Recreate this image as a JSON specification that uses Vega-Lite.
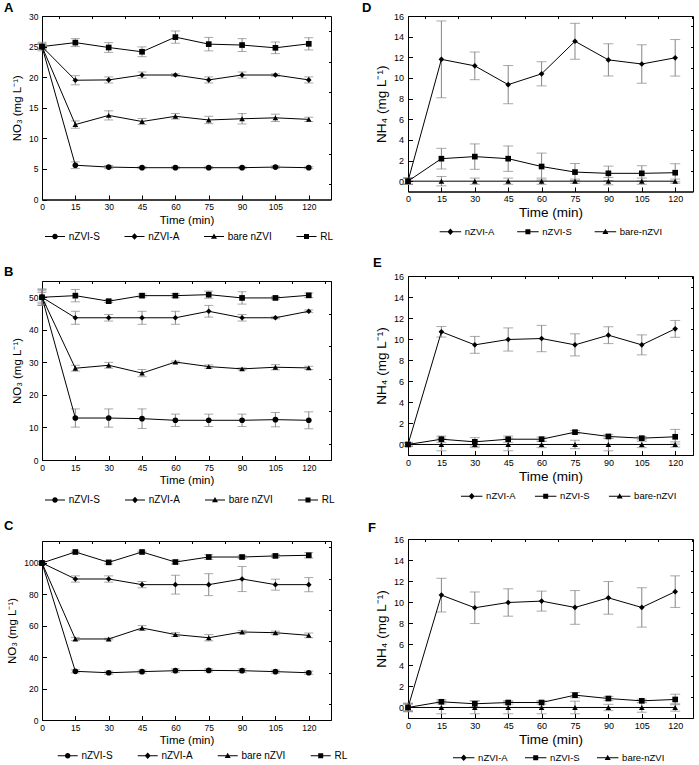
{
"$schema": "https://vega.github.io/schema/vega-lite/v6.json",
"padding": {"left": 3, "top": 1, "right": 0, "bottom": 0},
"background": "white",
"data": {"values": [
{"p":"A","s":"nZVI-S","t":0,"v":25,"e":0.4},{"p":"A","s":"nZVI-S","t":15,"v":5.6,"e":0.55},{"p":"A","s":"nZVI-S","t":30,"v":5.3,"e":0.25},{"p":"A","s":"nZVI-S","t":45,"v":5.2,"e":0.15},{"p":"A","s":"nZVI-S","t":60,"v":5.2,"e":0.15},{"p":"A","s":"nZVI-S","t":75,"v":5.2,"e":0.15},{"p":"A","s":"nZVI-S","t":90,"v":5.2,"e":0.15},{"p":"A","s":"nZVI-S","t":105,"v":5.3,"e":0.2},{"p":"A","s":"nZVI-S","t":120,"v":5.2,"e":0.15},
{"p":"A","s":"nZVI-A","t":0,"v":25,"e":0.4},{"p":"A","s":"nZVI-A","t":15,"v":19.5,"e":0.75},{"p":"A","s":"nZVI-A","t":30,"v":19.55,"e":0.5},{"p":"A","s":"nZVI-A","t":45,"v":20.35,"e":0.5},{"p":"A","s":"nZVI-A","t":60,"v":20.35,"e":0.2},{"p":"A","s":"nZVI-A","t":75,"v":19.55,"e":0.5},{"p":"A","s":"nZVI-A","t":90,"v":20.35,"e":0.5},{"p":"A","s":"nZVI-A","t":105,"v":20.35,"e":0.2},{"p":"A","s":"nZVI-A","t":120,"v":19.55,"e":0.5},
{"p":"A","s":"bare nZVI","t":0,"v":25,"e":0.4},{"p":"A","s":"bare nZVI","t":15,"v":12.25,"e":0.6},{"p":"A","s":"bare nZVI","t":30,"v":13.75,"e":0.75},{"p":"A","s":"bare nZVI","t":45,"v":12.75,"e":0.5},{"p":"A","s":"bare nZVI","t":60,"v":13.6,"e":0.45},{"p":"A","s":"bare nZVI","t":75,"v":13.0,"e":0.6},{"p":"A","s":"bare nZVI","t":90,"v":13.2,"e":0.85},{"p":"A","s":"bare nZVI","t":105,"v":13.35,"e":0.6},{"p":"A","s":"bare nZVI","t":120,"v":13.1,"e":0.35},
{"p":"A","s":"RL","t":0,"v":25,"e":0.7},{"p":"A","s":"RL","t":15,"v":25.65,"e":0.65},{"p":"A","s":"RL","t":30,"v":24.85,"e":0.8},{"p":"A","s":"RL","t":45,"v":24.15,"e":0.8},{"p":"A","s":"RL","t":60,"v":26.55,"e":1.0},{"p":"A","s":"RL","t":75,"v":25.4,"e":1.1},{"p":"A","s":"RL","t":90,"v":25.25,"e":1.05},{"p":"A","s":"RL","t":105,"v":24.8,"e":0.95},{"p":"A","s":"RL","t":120,"v":25.45,"e":1.0},
{"p":"B","s":"nZVI-S","t":0,"v":50,"e":2.5},{"p":"B","s":"nZVI-S","t":15,"v":12.9,"e":2.8},{"p":"B","s":"nZVI-S","t":30,"v":12.9,"e":2.8},{"p":"B","s":"nZVI-S","t":45,"v":12.7,"e":3.0},{"p":"B","s":"nZVI-S","t":60,"v":12.2,"e":1.9},{"p":"B","s":"nZVI-S","t":75,"v":12.2,"e":1.9},{"p":"B","s":"nZVI-S","t":90,"v":12.2,"e":1.9},{"p":"B","s":"nZVI-S","t":105,"v":12.4,"e":2.2},{"p":"B","s":"nZVI-S","t":120,"v":12.2,"e":2.6},
{"p":"B","s":"nZVI-A","t":0,"v":50,"e":2},{"p":"B","s":"nZVI-A","t":15,"v":43.7,"e":2.0},{"p":"B","s":"nZVI-A","t":30,"v":43.7,"e":1.0},{"p":"B","s":"nZVI-A","t":45,"v":43.7,"e":2.0},{"p":"B","s":"nZVI-A","t":60,"v":43.7,"e":2.0},{"p":"B","s":"nZVI-A","t":75,"v":45.7,"e":1.8},{"p":"B","s":"nZVI-A","t":90,"v":43.7,"e":1.0},{"p":"B","s":"nZVI-A","t":105,"v":43.7,"e":0.3},{"p":"B","s":"nZVI-A","t":120,"v":45.7,"e":0.4},
{"p":"B","s":"bare nZVI","t":0,"v":50,"e":1.5},{"p":"B","s":"bare nZVI","t":15,"v":28.2,"e":0.9},{"p":"B","s":"bare nZVI","t":30,"v":29.1,"e":0.9},{"p":"B","s":"bare nZVI","t":45,"v":26.7,"e":1.1},{"p":"B","s":"bare nZVI","t":60,"v":30.1,"e":0.3},{"p":"B","s":"bare nZVI","t":75,"v":28.7,"e":0.5},{"p":"B","s":"bare nZVI","t":90,"v":28.0,"e":0.3},{"p":"B","s":"bare nZVI","t":105,"v":28.5,"e":0.8},{"p":"B","s":"bare nZVI","t":120,"v":28.3,"e":0.5},
{"p":"B","s":"RL","t":0,"v":50,"e":2.5},{"p":"B","s":"RL","t":15,"v":50.5,"e":1.9},{"p":"B","s":"RL","t":30,"v":48.8,"e":0.4},{"p":"B","s":"RL","t":45,"v":50.5,"e":0.5},{"p":"B","s":"RL","t":60,"v":50.5,"e":0.6},{"p":"B","s":"RL","t":75,"v":50.8,"e":1.1},{"p":"B","s":"RL","t":90,"v":49.8,"e":1.9},{"p":"B","s":"RL","t":105,"v":49.8,"e":0.4},{"p":"B","s":"RL","t":120,"v":50.6,"e":0.7},
{"p":"C","s":"nZVI-S","t":0,"v":100,"e":1},{"p":"C","s":"nZVI-S","t":15,"v":31.0,"e":1},{"p":"C","s":"nZVI-S","t":30,"v":30.1,"e":1},{"p":"C","s":"nZVI-S","t":45,"v":30.8,"e":1},{"p":"C","s":"nZVI-S","t":60,"v":31.4,"e":1.2},{"p":"C","s":"nZVI-S","t":75,"v":31.6,"e":1},{"p":"C","s":"nZVI-S","t":90,"v":31.4,"e":1.2},{"p":"C","s":"nZVI-S","t":105,"v":30.8,"e":1},{"p":"C","s":"nZVI-S","t":120,"v":30.1,"e":1},
{"p":"C","s":"nZVI-A","t":0,"v":100,"e":1},{"p":"C","s":"nZVI-A","t":15,"v":89.8,"e":2},{"p":"C","s":"nZVI-A","t":30,"v":89.8,"e":2},{"p":"C","s":"nZVI-A","t":45,"v":86.2,"e":2},{"p":"C","s":"nZVI-A","t":60,"v":86.2,"e":6},{"p":"C","s":"nZVI-A","t":75,"v":86.2,"e":7},{"p":"C","s":"nZVI-A","t":90,"v":89.8,"e":8},{"p":"C","s":"nZVI-A","t":105,"v":86.2,"e":3.5},{"p":"C","s":"nZVI-A","t":120,"v":86.2,"e":4.5},
{"p":"C","s":"bare nZVI","t":0,"v":100,"e":1},{"p":"C","s":"bare nZVI","t":15,"v":51.6,"e":1},{"p":"C","s":"bare nZVI","t":30,"v":51.6,"e":0.5},{"p":"C","s":"bare nZVI","t":45,"v":58.6,"e":1.5},{"p":"C","s":"bare nZVI","t":60,"v":54.4,"e":1.2},{"p":"C","s":"bare nZVI","t":75,"v":52.4,"e":2},{"p":"C","s":"bare nZVI","t":90,"v":56.05,"e":1},{"p":"C","s":"bare nZVI","t":105,"v":55.6,"e":1},{"p":"C","s":"bare nZVI","t":120,"v":53.9,"e":1.5},
{"p":"C","s":"RL","t":0,"v":100,"e":1},{"p":"C","s":"RL","t":15,"v":107,"e":0.5},{"p":"C","s":"RL","t":30,"v":100.4,"e":1},{"p":"C","s":"RL","t":45,"v":107,"e":0.5},{"p":"C","s":"RL","t":60,"v":100.6,"e":1.2},{"p":"C","s":"RL","t":75,"v":103.8,"e":1.5},{"p":"C","s":"RL","t":90,"v":103.8,"e":1},{"p":"C","s":"RL","t":105,"v":104.5,"e":1},{"p":"C","s":"RL","t":120,"v":104.9,"e":1.7},
{"p":"D","s":"nZVI-A","t":0,"v":0,"e":0.3},{"p":"D","s":"nZVI-A","t":15,"v":11.8,"e":3.72},{"p":"D","s":"nZVI-A","t":30,"v":11.17,"e":1.34},{"p":"D","s":"nZVI-A","t":45,"v":9.35,"e":1.85},{"p":"D","s":"nZVI-A","t":60,"v":10.4,"e":1.17},{"p":"D","s":"nZVI-A","t":75,"v":13.55,"e":1.74},{"p":"D","s":"nZVI-A","t":90,"v":11.75,"e":1.56},{"p":"D","s":"nZVI-A","t":105,"v":11.35,"e":1.86},{"p":"D","s":"nZVI-A","t":120,"v":11.95,"e":1.77},
{"p":"D","s":"nZVI-S","t":0,"v":0,"e":0.3},{"p":"D","s":"nZVI-S","t":15,"v":2.18,"e":1.0},{"p":"D","s":"nZVI-S","t":30,"v":2.38,"e":1.23},{"p":"D","s":"nZVI-S","t":45,"v":2.18,"e":1.23},{"p":"D","s":"nZVI-S","t":60,"v":1.42,"e":1.3},{"p":"D","s":"nZVI-S","t":75,"v":0.88,"e":0.83},{"p":"D","s":"nZVI-S","t":90,"v":0.76,"e":0.7},{"p":"D","s":"nZVI-S","t":105,"v":0.76,"e":0.74},{"p":"D","s":"nZVI-S","t":120,"v":0.82,"e":0.87},
{"p":"D","s":"bare-nZVI","t":0,"v":0,"e":0.3},{"p":"D","s":"bare-nZVI","t":15,"v":0,"e":0.45},{"p":"D","s":"bare-nZVI","t":30,"v":0,"e":0.3},{"p":"D","s":"bare-nZVI","t":45,"v":0,"e":0.3},{"p":"D","s":"bare-nZVI","t":60,"v":0,"e":0.3},{"p":"D","s":"bare-nZVI","t":75,"v":0,"e":0.2},{"p":"D","s":"bare-nZVI","t":90,"v":0,"e":0.35},{"p":"D","s":"bare-nZVI","t":105,"v":0,"e":0.3},{"p":"D","s":"bare-nZVI","t":120,"v":0,"e":0.2},
{"p":"E","s":"nZVI-A","t":0,"v":0,"e":0.2},{"p":"E","s":"nZVI-A","t":15,"v":10.7,"e":0.5},{"p":"E","s":"nZVI-A","t":30,"v":9.46,"e":0.8},{"p":"E","s":"nZVI-A","t":45,"v":9.97,"e":1.1},{"p":"E","s":"nZVI-A","t":60,"v":10.06,"e":1.25},{"p":"E","s":"nZVI-A","t":75,"v":9.46,"e":1.05},{"p":"E","s":"nZVI-A","t":90,"v":10.38,"e":0.8},{"p":"E","s":"nZVI-A","t":105,"v":9.46,"e":0.95},{"p":"E","s":"nZVI-A","t":120,"v":10.98,"e":0.8},
{"p":"E","s":"nZVI-S","t":0,"v":0,"e":0.15},{"p":"E","s":"nZVI-S","t":15,"v":0.5,"e":0.3},{"p":"E","s":"nZVI-S","t":30,"v":0.25,"e":0.4},{"p":"E","s":"nZVI-S","t":45,"v":0.5,"e":0.3},{"p":"E","s":"nZVI-S","t":60,"v":0.5,"e":0.2},{"p":"E","s":"nZVI-S","t":75,"v":1.17,"e":0.15},{"p":"E","s":"nZVI-S","t":90,"v":0.76,"e":0.2},{"p":"E","s":"nZVI-S","t":105,"v":0.6,"e":0.15},{"p":"E","s":"nZVI-S","t":120,"v":0.73,"e":0.7},
{"p":"E","s":"bare-nZVI","t":0,"v":0,"e":0.15},{"p":"E","s":"bare-nZVI","t":15,"v":0,"e":0.6},{"p":"E","s":"bare-nZVI","t":30,"v":0,"e":0.3},{"p":"E","s":"bare-nZVI","t":45,"v":0,"e":0.6},{"p":"E","s":"bare-nZVI","t":60,"v":0,"e":0.3},{"p":"E","s":"bare-nZVI","t":75,"v":0,"e":0.4},{"p":"E","s":"bare-nZVI","t":90,"v":0,"e":0.6},{"p":"E","s":"bare-nZVI","t":105,"v":0,"e":0.3},{"p":"E","s":"bare-nZVI","t":120,"v":0,"e":0.25},
{"p":"F","s":"nZVI-A","t":0,"v":0,"e":0.3},{"p":"F","s":"nZVI-A","t":15,"v":10.67,"e":1.6},{"p":"F","s":"nZVI-A","t":30,"v":9.47,"e":1.5},{"p":"F","s":"nZVI-A","t":45,"v":9.97,"e":1.3},{"p":"F","s":"nZVI-A","t":60,"v":10.1,"e":0.95},{"p":"F","s":"nZVI-A","t":75,"v":9.5,"e":1.6},{"p":"F","s":"nZVI-A","t":90,"v":10.41,"e":1.55},{"p":"F","s":"nZVI-A","t":105,"v":9.5,"e":1.87},{"p":"F","s":"nZVI-A","t":120,"v":11.0,"e":1.5},
{"p":"F","s":"nZVI-S","t":0,"v":0,"e":0.4},{"p":"F","s":"nZVI-S","t":15,"v":0.54,"e":0.2},{"p":"F","s":"nZVI-S","t":30,"v":0.35,"e":0.3},{"p":"F","s":"nZVI-S","t":45,"v":0.47,"e":0.15},{"p":"F","s":"nZVI-S","t":60,"v":0.47,"e":0.15},{"p":"F","s":"nZVI-S","t":75,"v":1.17,"e":0.25},{"p":"F","s":"nZVI-S","t":90,"v":0.85,"e":0.2},{"p":"F","s":"nZVI-S","t":105,"v":0.63,"e":0.15},{"p":"F","s":"nZVI-S","t":120,"v":0.76,"e":0.5},
{"p":"F","s":"bare-nZVI","t":0,"v":0,"e":0.4},{"p":"F","s":"bare-nZVI","t":15,"v":0,"e":0.6},{"p":"F","s":"bare-nZVI","t":30,"v":0,"e":0.6},{"p":"F","s":"bare-nZVI","t":45,"v":0,"e":0.6},{"p":"F","s":"bare-nZVI","t":60,"v":0,"e":0.6},{"p":"F","s":"bare-nZVI","t":75,"v":0,"e":0.6},{"p":"F","s":"bare-nZVI","t":90,"v":0,"e":0.3},{"p":"F","s":"bare-nZVI","t":105,"v":0,"e":0.45},{"p":"F","s":"bare-nZVI","t":120,"v":0,"e":0.35}
]},
"spacing": 12,
"resolve": {"scale": {"shape": "independent", "x": "independent", "y": "independent"}, "legend": {"shape": "independent"}, "axis": {"x": "independent", "y": "independent"}},
"hconcat": [
{"spacing": 81, "bounds": "flush",
 "resolve": {"scale": {"shape": "independent", "x": "independent", "y": "independent"}, "legend": {"shape": "independent"}, "axis": {"x": "independent", "y": "independent"}},
 "vconcat": [
  {"width": 289, "height": 183.5,
   "title": {"text": "A", "anchor": "start", "frame": "group", "dx": -38, "offset": -2.75, "fontSize": 13, "fontWeight": "bold", "font": "Liberation Sans", "color": "black"},
   "transform": [{"filter": "datum.p==='A'"}],
   "resolve": {"scale": {"shape": "independent"}, "axis": {"x": "independent", "y": "independent"}},
   "layer": [
    {"mark": {"type": "errorbar", "ticks": {"size": 9}, "color": "#858585", "thickness": 1},
     "encoding": {"x": {"field": "t", "type": "quantitative", "scale": {"domain": [0, 130], "nice": false}, "axis": null},
      "y": {"field": "v", "type": "quantitative", "scale": {"domain": [0, 30], "nice": false}, "axis": null},
      "yError": {"field": "e"}}},
    {"mark": {"type": "line", "color": "black", "strokeWidth": 1},
     "encoding": {"x": {"field": "t", "type": "quantitative", "axis": {"values": [0,15,30,45,60,75,90,105,120], "tickSize": -4.5, "labelPadding": 7.5, "title": "Time (min)", "titlePadding": 3, "labelFontSize": 8.5, "titleFontSize": 11.5}},
      "y": {"field": "v", "type": "quantitative", "axis": {"values": [0,5,10,15,20,25,30], "tickSize": -4.5, "labelPadding": 8.5, "title": "NO₃ (mg L⁻¹)", "titlePadding": 6, "labelFontSize": 8.5, "titleFontSize": 11.5}},
      "detail": {"field": "s"}}},
    {"mark": {"type": "point", "filled": true, "color": "black", "size": 32, "opacity": 1},
     "encoding": {"x": {"field": "t", "type": "quantitative", "axis": {"values": [7.5,22.5,37.5,52.5,67.5,82.5,97.5,112.5,127.5], "tickSize": -2.5, "labels": false, "domain": false, "title": null}},
      "y": {"field": "v", "type": "quantitative", "axis": {"values": [2.5,7.5,12.5,17.5,22.5,27.5], "tickSize": -2.5, "labels": false, "domain": false, "title": null}},
      "shape": {"field": "s", "type": "nominal", "scale": {"domain": ["nZVI-S","nZVI-A","bare nZVI","RL"], "range": ["circle","diamond","triangle-up","square"]}, "legend": null}}},
    {"transform": [{"filter": "datum.t < 0"}],
     "mark": {"type": "point", "filled": true, "color": "black", "opacity": 1},
     "encoding": {"x": {"field": "t", "type": "quantitative", "axis": null}, "y": {"field": "v", "type": "quantitative", "axis": null},
      "shape": {"field": "s", "type": "nominal", "scale": {"domain": ["nZVI-S","nZVI-A","bare nZVI","RL"], "range": ["M-2,-0.1H2V0.1H-2ZM0.55,0A0.55,0.55,0,1,1,-0.55,0A0.55,0.55,0,1,1,0.55,0Z","M-2,-0.1H2V0.1H-2ZM0,-0.65L0.6,0L0,0.65L-0.6,0Z","M-2,-0.1H2V0.1H-2ZM0,-0.6L0.6,0.45L-0.6,0.45Z","M-2,-0.1H2V0.1H-2ZM-0.5,-0.5H0.5V0.5H-0.5Z"]},
       "legend": {"title": null, "orient": "none", "legendX": 8, "legendY": 215.5, "columnPadding": 24.5, "labelOffset": 8.75, "labelFontSize": 10}}}}
   ]},
  {"width": 289, "height": 179,
   "title": {"text": "B", "anchor": "start", "frame": "group", "dx": -38, "offset": 2, "fontSize": 13, "fontWeight": "bold", "font": "Liberation Sans", "color": "black"},
   "transform": [{"filter": "datum.p==='B'"}],
   "resolve": {"scale": {"shape": "independent"}, "axis": {"x": "independent", "y": "independent"}},
   "layer": [
    {"mark": {"type": "errorbar", "ticks": {"size": 9}, "color": "#858585", "thickness": 1},
     "encoding": {"x": {"field": "t", "type": "quantitative", "scale": {"domain": [0, 130], "nice": false}, "axis": null},
      "y": {"field": "v", "type": "quantitative", "scale": {"domain": [0, 55], "nice": false}, "axis": null},
      "yError": {"field": "e"}}},
    {"mark": {"type": "line", "color": "black", "strokeWidth": 1},
     "encoding": {"x": {"field": "t", "type": "quantitative", "axis": {"values": [0,15,30,45,60,75,90,105,120], "tickSize": -4.5, "labelPadding": 7.5, "title": "Time (min)", "titlePadding": 3, "labelFontSize": 8.5, "titleFontSize": 11.5}},
      "y": {"field": "v", "type": "quantitative", "axis": {"values": [0,10,20,30,40,50], "tickSize": -4.5, "labelPadding": 8.5, "title": "NO₃ (mg L⁻¹)", "titlePadding": 6, "labelFontSize": 8.5, "titleFontSize": 11.5}},
      "detail": {"field": "s"}}},
    {"mark": {"type": "point", "filled": true, "color": "black", "size": 32, "opacity": 1},
     "encoding": {"x": {"field": "t", "type": "quantitative", "axis": {"values": [7.5,22.5,37.5,52.5,67.5,82.5,97.5,112.5,127.5], "tickSize": -2.5, "labels": false, "domain": false, "title": null}},
      "y": {"field": "v", "type": "quantitative", "axis": {"values": [5,15,25,35,45,55], "tickSize": -2.5, "labels": false, "domain": false, "title": null}},
      "shape": {"field": "s", "type": "nominal", "scale": {"domain": ["nZVI-S","nZVI-A","bare nZVI","RL"], "range": ["circle","diamond","triangle-up","square"]}, "legend": null}}},
    {"transform": [{"filter": "datum.t < 0"}],
     "mark": {"type": "point", "filled": true, "color": "black", "opacity": 1},
     "encoding": {"x": {"field": "t", "type": "quantitative", "axis": null}, "y": {"field": "v", "type": "quantitative", "axis": null},
      "shape": {"field": "s", "type": "nominal", "scale": {"domain": ["nZVI-S","nZVI-A","bare nZVI","RL"], "range": ["M-2,-0.1H2V0.1H-2ZM0.55,0A0.55,0.55,0,1,1,-0.55,0A0.55,0.55,0,1,1,0.55,0Z","M-2,-0.1H2V0.1H-2ZM0,-0.65L0.6,0L0,0.65L-0.6,0Z","M-2,-0.1H2V0.1H-2ZM0,-0.6L0.6,0.45L-0.6,0.45Z","M-2,-0.1H2V0.1H-2ZM-0.5,-0.5H0.5V0.5H-0.5Z"]},
       "legend": {"title": null, "orient": "none", "legendX": 8, "legendY": 214, "columnPadding": 25, "labelOffset": 8.75, "labelFontSize": 10}}}}
   ]},
  {"width": 289, "height": 179,
   "title": {"text": "C", "anchor": "start", "frame": "group", "dx": -38, "offset": 7.5, "fontSize": 13, "fontWeight": "bold", "font": "Liberation Sans", "color": "black"},
   "transform": [{"filter": "datum.p==='C'"}],
   "resolve": {"scale": {"shape": "independent"}, "axis": {"x": "independent", "y": "independent"}},
   "layer": [
    {"mark": {"type": "errorbar", "ticks": {"size": 9}, "color": "#858585", "thickness": 1},
     "encoding": {"x": {"field": "t", "type": "quantitative", "scale": {"domain": [0, 130], "nice": false}, "axis": null},
      "y": {"field": "v", "type": "quantitative", "scale": {"domain": [0, 114], "nice": false}, "axis": null},
      "yError": {"field": "e"}}},
    {"mark": {"type": "line", "color": "black", "strokeWidth": 1},
     "encoding": {"x": {"field": "t", "type": "quantitative", "axis": {"values": [0,15,30,45,60,75,90,105,120], "tickSize": -4.5, "labelPadding": 7.5, "title": "Time (min)", "titlePadding": 3, "labelFontSize": 8.5, "titleFontSize": 11.5}},
      "y": {"field": "v", "type": "quantitative", "axis": {"values": [0,20,40,60,80,100], "tickSize": -4.5, "labelPadding": 8.5, "title": "NO₃ (mg L⁻¹)", "titlePadding": 6, "labelFontSize": 8.5, "titleFontSize": 11.5}},
      "detail": {"field": "s"}}},
    {"mark": {"type": "point", "filled": true, "color": "black", "size": 32, "opacity": 1},
     "encoding": {"x": {"field": "t", "type": "quantitative", "axis": {"values": [7.5,22.5,37.5,52.5,67.5,82.5,97.5,112.5,127.5], "tickSize": -2.5, "labels": false, "domain": false, "title": null}},
      "y": {"field": "v", "type": "quantitative", "axis": {"values": [10,30,50,70,90,110], "tickSize": -2.5, "labels": false, "domain": false, "title": null}},
      "shape": {"field": "s", "type": "nominal", "scale": {"domain": ["nZVI-S","nZVI-A","bare nZVI","RL"], "range": ["circle","diamond","triangle-up","square"]}, "legend": null}}},
    {"transform": [{"filter": "datum.t < 0"}],
     "mark": {"type": "point", "filled": true, "color": "black", "opacity": 1},
     "encoding": {"x": {"field": "t", "type": "quantitative", "axis": null}, "y": {"field": "v", "type": "quantitative", "axis": null},
      "shape": {"field": "s", "type": "nominal", "scale": {"domain": ["nZVI-S","nZVI-A","bare nZVI","RL"], "range": ["M-2,-0.1H2V0.1H-2ZM0.55,0A0.55,0.55,0,1,1,-0.55,0A0.55,0.55,0,1,1,0.55,0Z","M-2,-0.1H2V0.1H-2ZM0,-0.65L0.6,0L0,0.65L-0.6,0Z","M-2,-0.1H2V0.1H-2ZM0,-0.6L0.6,0.45L-0.6,0.45Z","M-2,-0.1H2V0.1H-2ZM-0.5,-0.5H0.5V0.5H-0.5Z"]},
       "legend": {"title": null, "orient": "none", "legendX": 20.7, "legendY": 209.7, "columnPadding": 25, "labelOffset": 8.75, "labelFontSize": 10}}}}
   ]}
 ]},
{"spacing": 84, "bounds": "flush",
 "resolve": {"scale": {"shape": "independent", "x": "independent", "y": "independent"}, "legend": {"shape": "independent"}, "axis": {"x": "independent", "y": "independent"}},
 "vconcat": [
  {"width": 285, "height": 175.5,
   "title": {"text": "D", "anchor": "start", "frame": "group", "dx": -46, "offset": -3, "fontSize": 13, "fontWeight": "bold", "font": "Liberation Sans", "color": "black"},
   "transform": [{"filter": "datum.p==='D'"}],
   "resolve": {"scale": {"shape": "independent"}, "axis": {"x": "independent", "y": "independent"}},
   "layer": [
    {"mark": {"type": "errorbar", "ticks": {"size": 10}, "color": "#858585", "thickness": 1},
     "encoding": {"x": {"field": "t", "type": "quantitative", "scale": {"domain": [0, 128], "nice": false}, "axis": null},
      "y": {"field": "v", "type": "quantitative", "scale": {"domain": [-1, 16], "nice": false}, "axis": null},
      "yError": {"field": "e"}}},
    {"mark": {"type": "line", "color": "black", "strokeWidth": 1},
     "encoding": {"x": {"field": "t", "type": "quantitative", "axis": {"values": [0,15,30,45,60,75,90,105,120], "tickSize": -4.5, "labelPadding": 7.5, "title": "Time (min)", "titlePadding": 2, "labelFontSize": 9, "titleFontSize": 13.5}},
      "y": {"field": "v", "type": "quantitative", "axis": {"values": [0,2,4,6,8,10,12,14,16], "tickSize": -4.5, "labelPadding": 9, "title": "NH₄ (mg L⁻¹)", "titlePadding": 5, "labelFontSize": 9, "titleFontSize": 13.5}},
      "detail": {"field": "s"}}},
    {"mark": {"type": "point", "filled": true, "color": "black", "size": 32, "opacity": 1},
     "encoding": {"x": {"field": "t", "type": "quantitative", "axis": {"values": [7.5,22.5,37.5,52.5,67.5,82.5,97.5,112.5,127.5], "tickSize": -2.5, "labels": false, "domain": false, "title": null}},
      "y": {"field": "v", "type": "quantitative", "axis": {"values": [1,3,5,7,9,11,13,15], "tickSize": -2.5, "labels": false, "domain": false, "title": null}},
      "shape": {"field": "s", "type": "nominal", "scale": {"domain": ["nZVI-A","nZVI-S","bare-nZVI"], "range": ["diamond","square","triangle-up"]}, "legend": null}}},
    {"transform": [{"filter": "datum.t < 0"}],
     "mark": {"type": "point", "filled": true, "color": "black", "opacity": 1},
     "encoding": {"x": {"field": "t", "type": "quantitative", "axis": null}, "y": {"field": "v", "type": "quantitative", "axis": null},
      "shape": {"field": "s", "type": "nominal", "scale": {"domain": ["nZVI-A","nZVI-S","bare-nZVI"], "range": ["M-2.15,-0.1H2.15V0.1H-2.15ZM0,-0.65L0.6,0L0,0.65L-0.6,0Z","M-2.15,-0.1H2.15V0.1H-2.15ZM-0.5,-0.5H0.5V0.5H-0.5Z","M-2.15,-0.1H2.15V0.1H-2.15ZM0,-0.6L0.6,0.45L-0.6,0.45Z"]},
       "legend": {"title": null, "orient": "none", "legendX": 37.4, "legendY": 210.5, "columnPadding": 22.5, "labelOffset": 9.4, "labelFontSize": 9.5}}}}
   ]},
  {"width": 285, "height": 179,
   "title": {"text": "E", "anchor": "start", "frame": "group", "dx": -35, "offset": 2.5, "fontSize": 13, "fontWeight": "bold", "font": "Liberation Sans", "color": "black"},
   "transform": [{"filter": "datum.p==='E'"}],
   "resolve": {"scale": {"shape": "independent"}, "axis": {"x": "independent", "y": "independent"}},
   "layer": [
    {"mark": {"type": "errorbar", "ticks": {"size": 10}, "color": "#858585", "thickness": 1},
     "encoding": {"x": {"field": "t", "type": "quantitative", "scale": {"domain": [0, 128], "nice": false}, "axis": null},
      "y": {"field": "v", "type": "quantitative", "scale": {"domain": [-1, 16], "nice": false}, "axis": null},
      "yError": {"field": "e"}}},
    {"mark": {"type": "line", "color": "black", "strokeWidth": 1},
     "encoding": {"x": {"field": "t", "type": "quantitative", "axis": {"values": [0,15,30,45,60,75,90,105,120], "tickSize": -4.5, "labelPadding": 7.5, "title": "Time (min)", "titlePadding": 2, "labelFontSize": 9, "titleFontSize": 13.5}},
      "y": {"field": "v", "type": "quantitative", "axis": {"values": [0,2,4,6,8,10,12,14,16], "tickSize": -4.5, "labelPadding": 9, "title": "NH₄ (mg L⁻¹)", "titlePadding": 5, "labelFontSize": 9, "titleFontSize": 13.5}},
      "detail": {"field": "s"}}},
    {"mark": {"type": "point", "filled": true, "color": "black", "size": 32, "opacity": 1},
     "encoding": {"x": {"field": "t", "type": "quantitative", "axis": {"values": [7.5,22.5,37.5,52.5,67.5,82.5,97.5,112.5,127.5], "tickSize": -2.5, "labels": false, "domain": false, "title": null}},
      "y": {"field": "v", "type": "quantitative", "axis": {"values": [1,3,5,7,9,11,13,15], "tickSize": -2.5, "labels": false, "domain": false, "title": null}},
      "shape": {"field": "s", "type": "nominal", "scale": {"domain": ["nZVI-A","nZVI-S","bare-nZVI"], "range": ["diamond","square","triangle-up"]}, "legend": null}}},
    {"transform": [{"filter": "datum.t < 0"}],
     "mark": {"type": "point", "filled": true, "color": "black", "opacity": 1},
     "encoding": {"x": {"field": "t", "type": "quantitative", "axis": null}, "y": {"field": "v", "type": "quantitative", "axis": null},
      "shape": {"field": "s", "type": "nominal", "scale": {"domain": ["nZVI-A","nZVI-S","bare-nZVI"], "range": ["M-2.15,-0.1H2.15V0.1H-2.15ZM0,-0.65L0.6,0L0,0.65L-0.6,0Z","M-2.15,-0.1H2.15V0.1H-2.15ZM-0.5,-0.5H0.5V0.5H-0.5Z","M-2.15,-0.1H2.15V0.1H-2.15ZM0,-0.6L0.6,0.45L-0.6,0.45Z"]},
       "legend": {"title": null, "orient": "none", "legendX": 58.7, "legendY": 215, "columnPadding": 19, "labelOffset": 9.4, "labelFontSize": 9.5}}}}
   ]},
  {"width": 285, "height": 179,
   "title": {"text": "F", "anchor": "start", "frame": "group", "dx": -40, "offset": 0.5, "fontSize": 13, "fontWeight": "bold", "font": "Liberation Sans", "color": "black"},
   "transform": [{"filter": "datum.p==='F'"}],
   "resolve": {"scale": {"shape": "independent"}, "axis": {"x": "independent", "y": "independent"}},
   "layer": [
    {"mark": {"type": "errorbar", "ticks": {"size": 10}, "color": "#858585", "thickness": 1},
     "encoding": {"x": {"field": "t", "type": "quantitative", "scale": {"domain": [0, 128], "nice": false}, "axis": null},
      "y": {"field": "v", "type": "quantitative", "scale": {"domain": [-1, 16], "nice": false}, "axis": null},
      "yError": {"field": "e"}}},
    {"mark": {"type": "line", "color": "black", "strokeWidth": 1},
     "encoding": {"x": {"field": "t", "type": "quantitative", "axis": {"values": [0,15,30,45,60,75,90,105,120], "tickSize": -4.5, "labelPadding": 7.5, "title": "Time (min)", "titlePadding": 2, "labelFontSize": 9, "titleFontSize": 13.5}},
      "y": {"field": "v", "type": "quantitative", "axis": {"values": [0,2,4,6,8,10,12,14,16], "tickSize": -4.5, "labelPadding": 9, "title": "NH₄ (mg L⁻¹)", "titlePadding": 5, "labelFontSize": 9, "titleFontSize": 13.5}},
      "detail": {"field": "s"}}},
    {"mark": {"type": "point", "filled": true, "color": "black", "size": 32, "opacity": 1},
     "encoding": {"x": {"field": "t", "type": "quantitative", "axis": {"values": [7.5,22.5,37.5,52.5,67.5,82.5,97.5,112.5,127.5], "tickSize": -2.5, "labels": false, "domain": false, "title": null}},
      "y": {"field": "v", "type": "quantitative", "axis": {"values": [1,3,5,7,9,11,13,15], "tickSize": -2.5, "labels": false, "domain": false, "title": null}},
      "shape": {"field": "s", "type": "nominal", "scale": {"domain": ["nZVI-A","nZVI-S","bare-nZVI"], "range": ["diamond","square","triangle-up"]}, "legend": null}}},
    {"transform": [{"filter": "datum.t < 0"}],
     "mark": {"type": "point", "filled": true, "color": "black", "opacity": 1},
     "encoding": {"x": {"field": "t", "type": "quantitative", "axis": null}, "y": {"field": "v", "type": "quantitative", "axis": null},
      "shape": {"field": "s", "type": "nominal", "scale": {"domain": ["nZVI-A","nZVI-S","bare-nZVI"], "range": ["M-2.15,-0.1H2.15V0.1H-2.15ZM0,-0.65L0.6,0L0,0.65L-0.6,0Z","M-2.15,-0.1H2.15V0.1H-2.15ZM-0.5,-0.5H0.5V0.5H-0.5Z","M-2.15,-0.1H2.15V0.1H-2.15ZM0,-0.6L0.6,0.45L-0.6,0.45Z"]},
       "legend": {"title": null, "orient": "none", "legendX": 50.7, "legendY": 213.5, "columnPadding": 17, "labelOffset": 9.4, "labelFontSize": 9.5}}}}
   ]}
 ]}
],
"config": {
 "font": "Liberation Sans",
 "view": {"stroke": "black", "strokeWidth": 1},
 "axis": {"labelFont": "Liberation Sans", "titleFont": "Liberation Sans", "labelColor": "black", "titleColor": "black", "domainColor": "black", "tickColor": "black", "grid": false, "titleFontWeight": "normal", "domainWidth": 1, "tickWidth": 1, "labelFlush": false, "labelOverlap": false},
 "legend": {"direction": "horizontal", "padding": 0, "symbolSize": 100, "labelFont": "Liberation Sans", "labelColor": "black", "symbolFillColor": "black", "symbolStrokeWidth": 0, "symbolOpacity": 1}
}
}
